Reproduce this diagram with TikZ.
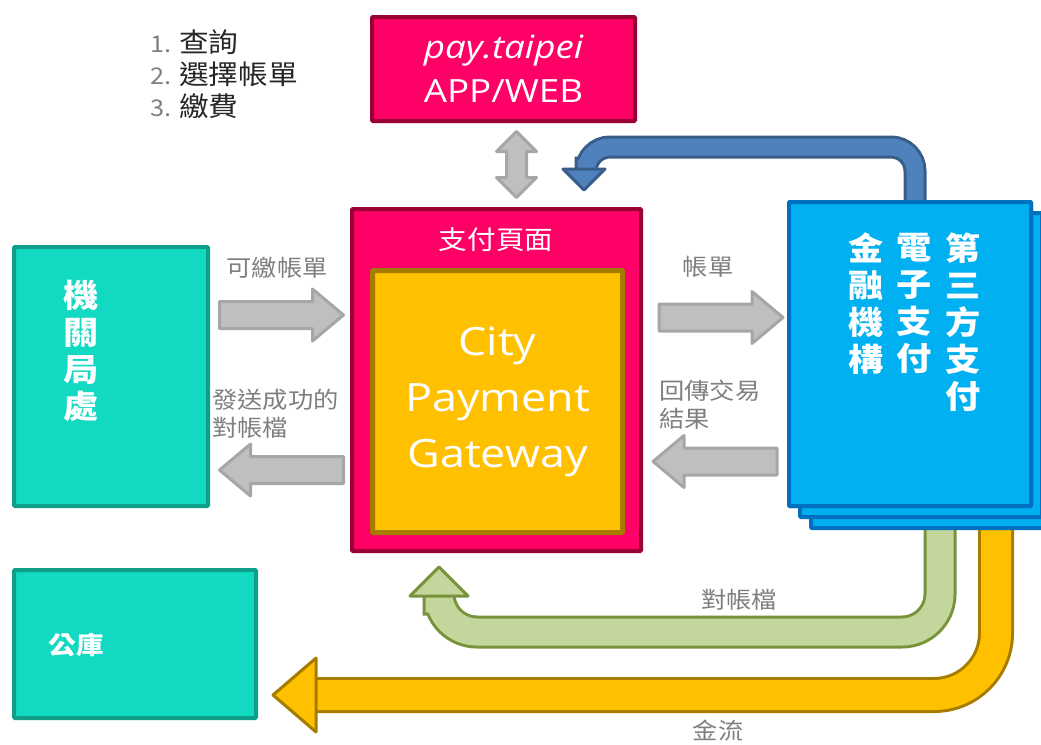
\documentclass[tikz,border=0pt]{standalone}
\usepackage{fontspec}
\usepackage{tikz}
\usetikzlibrary{calc}
\usetikzlibrary{positioning}

\setmainfont{Open Sans}[FakeStretch=1.15]
\newfontfamily\cjk{Noto Sans CJK TC}[FakeStretch=1.1]

\definecolor{pinkfill}{RGB}{255,0,102}
\definecolor{pinkline}{RGB}{153,0,51}
\definecolor{goldfill}{RGB}{255,192,0}
\definecolor{goldline}{RGB}{166,124,0}
\definecolor{tealfill}{RGB}{18,217,194}
\definecolor{tealline}{RGB}{14,158,138}
\definecolor{skyfill}{RGB}{0,176,240}
\definecolor{skyline}{RGB}{0,112,192}
\definecolor{grayfill}{RGB}{191,191,191}
\definecolor{grayline}{RGB}{166,166,166}
\definecolor{greenfill}{RGB}{195,214,155}
\definecolor{greenline}{RGB}{119,147,60}
\definecolor{bluefill}{RGB}{79,129,189}
\definecolor{blueline}{RGB}{56,93,138}
\definecolor{labelgray}{RGB}{127,127,127}
\definecolor{listtext}{RGB}{38,38,38}

\newcommand{\stepnum}{\color{labelgray}\itshape\fontsize{23}{32}\selectfont}

\tikzset{
	box/.style={draw, line width=4pt, inner sep=0pt, rounded corners=1pt},
	pinkbox/.style={box, draw=pinkline, fill=pinkfill, text=white},
	tealbox/.style={box, draw=tealline, fill=tealfill},
	skybox/.style={box, draw=skyline, fill=skyfill, minimum width=242pt, minimum height=304pt},
	vtext/.style={inner sep=0pt, align=center, text=white, font=\cjk\bfseries\fontsize{32}{37}\selectfont},
	lbl/.style={inner sep=0pt, text=labelgray, font=\cjk\fontsize{23}{28}\selectfont},
	grayshape/.style={draw=grayline, fill=grayfill, line width=3pt, line join=round},
	graybar/.pic={
		\filldraw[grayshape] (-62,-13.5) -- (31,-13.5) -- (31,-26) -- (62,0)
			-- (31,26) -- (31,13.5) -- (-62,13.5) -- cycle;
	},
	grayduo/.pic={
		\filldraw[grayshape] (0,-33) -- (20,-13) -- (10,-13) -- (10,13) -- (20,13) -- (0,33)
			-- (-20,13) -- (-10,13) -- (-10,-13) -- (-20,-13) -- cycle;
	},
	pipe/.style={line width=3pt, line cap=rect},
	head/.style={line width=3pt, line join=round}
}

\begin{document}
\begin{tikzpicture}[x=1pt,y=-1pt]
	\useasboundingbox (0,0) rectangle (1041,744);

	% steps on the app
	\node (steps) [anchor=north west, align=left, inner sep=0pt, text=listtext,
		font=\cjk\fontsize{27}{32}\selectfont] at (150,29) {%
		{\stepnum 1.}\hspace{8pt}查詢\\
		{\stepnum 2.}\hspace{8pt}選擇帳單\\
		{\stepnum 3.}\hspace{8pt}繳費};

	% curved arrows, drawn first so the boxes sit on top
	\coordinate (bluetip) at (584,190);
	\coordinate (greentip) at (439,567);
	\coordinate (goldtip) at (273,695);
	\draw[pipe, draw=goldline, double=goldfill, double distance=30pt, rounded corners=62pt]
		(996,545) -- (996,695) -- ($(goldtip)+(45,0)$);
	\filldraw[head, draw=goldline, fill=goldfill] ($(goldtip)+(43,-37)$) -- ($(goldtip)+(43,37)$) -- (goldtip) -- cycle;
	\draw[pipe, draw=greenline, double=greenfill, double distance=27pt, rounded corners=38pt]
		(940,542) -- (940,632) -- (439,632) -- ($(greentip)+(0,32)$);
	\filldraw[head, draw=greenline, fill=greenfill] ($(greentip)+(-29,29)$) -- ($(greentip)+(29,29)$) -- (greentip) -- cycle;

	% boxes
	\node (tppback) [skybox] at (932,376) {};
	\node (tppmid) [skybox] at (921,365) {};
	\node (tpp) [skybox] at (910,354) {};
	\draw[pipe, draw=blueline, double=bluefill, double distance=17pt, rounded corners=24pt]
		($(tpp.north)+(5,-4)$) -- (915,147) -- (586,147) -- ($(bluetip)+(2,-22)$);
	\filldraw[head, draw=blueline, fill=bluefill] ($(bluetip)+(-21,-21)$) -- ($(bluetip)+(21,-21)$) -- (bluetip) -- cycle;
	\node (tpp) [skybox] at (910,354) {};
	\node (col1) [vtext, anchor=north] at (963,233) {第\\三\\方\\支\\付};
	\node (col2) [vtext, anchor=north] at (914,233) {電\\子\\支\\付};
	\node (col3) [vtext, anchor=north] at (866,233) {金\\融\\機\\構};

	\node (pay) [pinkbox, minimum width=263pt, minimum height=104pt, align=center,
		font=\fontsize{32}{44}\selectfont] at (503.5,69) {{\itshape pay.taipei}\\APP/WEB};
	\node (page) [pinkbox, minimum width=289pt, minimum height=342pt] at (496.5,380) {};
	\node (pagetitle) [inner sep=0pt, text=white, font=\cjk\fontsize{26}{30}\selectfont] at (496,240) {支付頁面};
	\node (cpg) [box, line width=5pt, draw=goldline, fill=goldfill, text=white, align=center,
		minimum width=250pt, minimum height=262pt, font=\fontsize{39}{56}\selectfont] at (497.5,401.5)
		{City\\Payment\\Gateway};

	\node (agency) [tealbox, minimum width=194pt, minimum height=259pt] at (111,376.5) {};
	\node (agencytxt) [vtext] at (81,351) {機\\關\\局\\處};
	\node (treasury) [tealbox, minimum width=242pt, minimum height=148pt] at (135,644) {};
	\node (treasurytxt) [inner sep=0pt, text=white, font=\cjk\bfseries\fontsize{25}{30}\selectfont] at (76,645) {公庫};

	% straight grey arrows
	\pic (apparrow) at (516.5,164.5) {grayduo};
	\pic (billarrow) at (281.5,315) {graybar};
	\pic (reconarrow) [rotate=180] at (281.5,470) {graybar};
	\pic (sendarrow) at (721,317.5) {graybar};
	\pic (resultarrow) [rotate=180] at (715,461.5) {graybar};

	% labels
	\node (billlbl) [lbl] at (277,268) {可繳帳單};
	\node (reconlbl) [lbl, anchor=west, align=left] at (212,414) {發送成功的\\對帳檔};
	\node (sendlbl) [lbl] at (708,267) {帳單};
	\node (resultlbl) [lbl, anchor=west, align=left] at (659,405) {回傳交易\\結果};
	\node (greenlbl) [lbl] at (739,600) {對帳檔};
	\node (goldlbl) [lbl] at (718,731) {金流};
\end{tikzpicture}
\end{document}
